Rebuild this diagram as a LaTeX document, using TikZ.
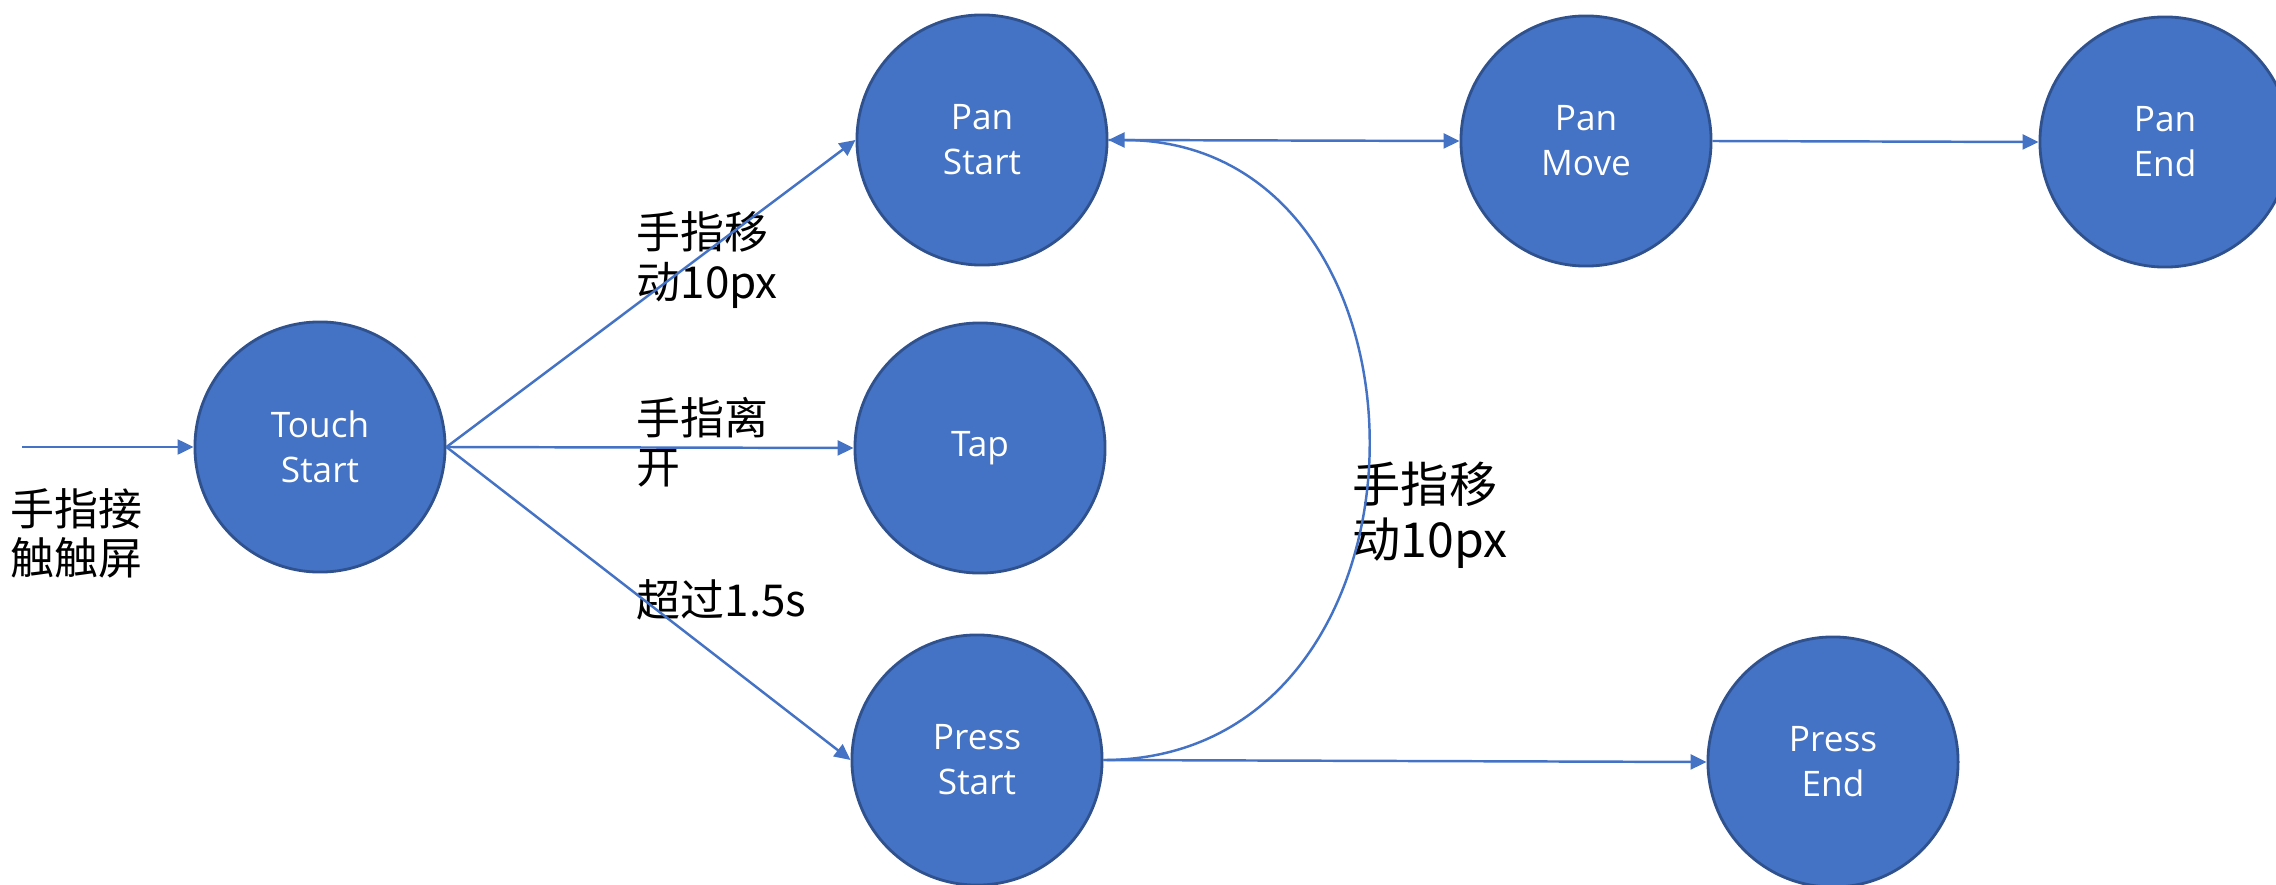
\documentclass[tikz,border=0pt]{standalone}
\usepackage{fontspec}
\setmainfont{Open Sans}
\newfontfamily\cjk{Noto Sans CJK SC}
\usetikzlibrary{arrows.meta,positioning}
\definecolor{state}{HTML}{4472C4}
\definecolor{rim}{HTML}{2F528F}

\begin{document}
\begin{tikzpicture}[x=0.01cm, y=-0.01cm,
st/.style={circle,draw=rim,line width=0.8pt,fill=state,text=white,minimum size=2.5cm,inner sep=0pt,align=center,font=\fontsize{10}{12.8}\selectfont},
lbl/.style={anchor=west,inner sep=0pt,align=left,font=\cjk\fontsize{12.5}{14}\selectfont},
arr/.style={-{Triangle[length=1.6mm,width=1.5mm]},draw=state,line width=0.7pt}]
\useasboundingbox (0,0) rectangle (2276,885);
\node[st] (touch) at (320,447) {Touch\\Start};
\node[st] (pans) at (982,140) {Pan\\Start};
\node[st] (tap) at (980,448) {Tap};
\node[st] (press) at (977,760) {Press\\Start};
\node[st] (panm) at (1586,141) {Pan\\Move};
\node[st] (pane) at (2165,142) {Pan\\End};
\node[st] (presse) at (1833,762) {Press\\End};
\coordinate (in) at (22,447);
\node[lbl] (l0) at (10,533) {手指接\\触触屏};
\node[lbl] (l1) at (636,260) {手指移\\动10px};
\node[lbl] (l2) at (636,442) {手指离\\开};
\node[lbl] (l3) at (636,600) {超过1.5s};
\node[lbl,font=\cjk\fontsize{13.7}{15.6}\selectfont] (l4) at (1352,515) {手指移\\动10px};
\draw[arr] (in)--(touch.west);
\draw[arr] (touch.east)--(pans.west); \draw[arr] (touch.east)--(tap.west); \draw[arr] (touch.east)--(press.west);
\draw[arr] (pans.east)--(panm.west); \draw[arr] (panm.east)--(pane.west);
\draw[arr] (press.east)--(presse.west);
\draw[arr] (press.east) .. controls (1455,760) and (1455,140) .. (pans.east);
\end{tikzpicture}
\end{document}
